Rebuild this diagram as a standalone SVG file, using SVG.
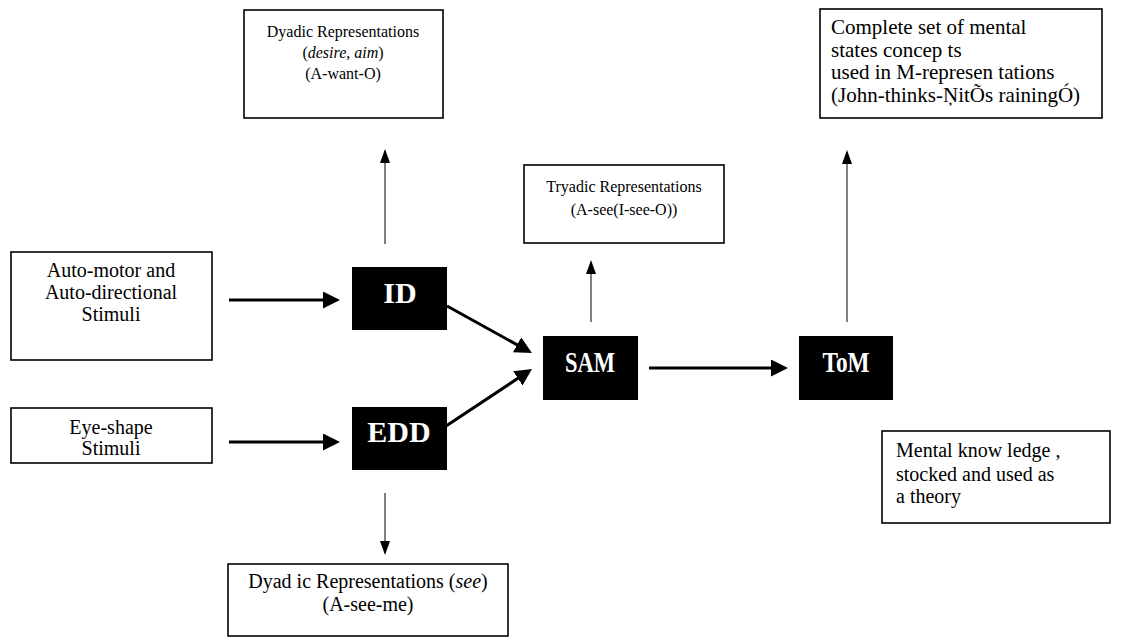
<svg xmlns="http://www.w3.org/2000/svg" width="1127" height="639" viewBox="0 0 1127 639">
<defs>
<style>
.box{fill:#fff;stroke:#000;stroke-width:1.6}
.blk{fill:#000}
.t{font-family:'Liberation Serif','Times New Roman',Times,'DejaVu Serif',serif;font-size:16px;fill:#000}
.L{font-size:20px}
.XL{font-size:21px}
.c{text-anchor:middle}
.bt{font-family:'Liberation Serif','Times New Roman',Times,'DejaVu Serif',serif;font-size:30px;font-weight:bold;fill:#fff;text-anchor:middle}
.thick{stroke:#000;stroke-width:3;fill:none}
.thin{stroke:#000;stroke-width:1;fill:none}
</style>
<marker id="ah" viewBox="0 0 17 17" refX="11" refY="8.5" markerWidth="17" markerHeight="17" markerUnits="userSpaceOnUse" orient="auto">
<path d="M0,0 L17,8.5 L0,17 z" fill="#000"/>
</marker>
<marker id="as" viewBox="0 0 14 10" refX="12" refY="5" markerWidth="14" markerHeight="10" markerUnits="userSpaceOnUse" orient="auto">
<path d="M0,0 L14,5 L0,10 z" fill="#000"/>
</marker>
</defs>
<rect width="1127" height="639" fill="#fff"/>

<g id="dyadic-top">
<rect class="box" x="244" y="10" width="199" height="108"/>
<text class="t c" x="343" y="37">Dyadic Representations</text>
<text class="t c" x="343" y="58">(<tspan font-style="italic">desire</tspan>, <tspan font-style="italic">aim</tspan>)</text>
<text class="t c" x="343" y="79">(A-want-O)</text>
</g>

<g id="complete-set">
<rect class="box" x="820" y="9" width="282" height="109"/>
<text class="t XL" x="831" y="34">Complete set of mental</text>
<text class="t XL" x="831" y="57">states concep ts</text>
<text class="t XL" x="831" y="79">used in M-represen tations</text>
<text class="t XL" x="831" y="102">(John-thinks-ŅitÕs rainingÓ)</text>
</g>

<g id="tryadic">
<rect class="box" x="524" y="165" width="200" height="78"/>
<text class="t c" x="624" y="192">Tryadic Representations</text>
<text class="t c" x="624" y="215">(A-see(I-see-O))</text>
</g>

<g id="auto-stimuli">
<rect class="box" x="11" y="252" width="201" height="108"/>
<text class="t L c" x="111" y="277">Auto-motor and</text>
<text class="t L c" x="111" y="299">Auto-directional</text>
<text class="t L c" x="111" y="321">Stimuli</text>
</g>

<g id="eye-stimuli">
<rect class="box" x="11" y="408" width="201" height="55"/>
<text class="t L c" x="111" y="434">Eye-shape</text>
<text class="t L c" x="111" y="455">Stimuli</text>
</g>

<g id="ID">
<rect class="blk" x="352" y="267" width="95" height="63"/>
<text class="bt" x="400" y="303">ID</text>
</g>

<g id="EDD">
<rect class="blk" x="352" y="407" width="95" height="63"/>
<text class="bt" x="399" y="442">EDD</text>
</g>

<g id="SAM">
<rect class="blk" x="543" y="336" width="95" height="64"/>
<text class="bt" x="590" y="372" textLength="50" lengthAdjust="spacingAndGlyphs">SAM</text>
</g>

<g id="ToM">
<rect class="blk" x="799" y="336" width="94" height="64"/>
<text class="bt" x="846" y="372" textLength="47" lengthAdjust="spacingAndGlyphs">ToM</text>
</g>

<g id="mental-knowledge">
<rect class="box" x="882" y="431" width="228" height="92"/>
<text class="t L" x="896" y="457">Mental know ledge ,</text>
<text class="t L" x="896" y="481">stocked and used as</text>
<text class="t L" x="896" y="503">a theory</text>
</g>

<g id="dyadic-see">
<rect class="box" x="228" y="564" width="280" height="72"/>
<text class="t L c" x="368" y="588">Dyad ic Representations (<tspan font-style="italic">see</tspan>)</text>
<text class="t L c" x="368" y="611">(A-see-me)</text>
</g>

<g id="connectors">
<line class="thick" x1="229" y1="300" x2="334" y2="300" marker-end="url(#ah)"/>
<line class="thick" x1="229" y1="442" x2="334" y2="442" marker-end="url(#ah)"/>
<line class="thick" x1="447" y1="306" x2="526.7" y2="350.1" marker-end="url(#ah)"/>
<line class="thick" x1="437" y1="432" x2="527" y2="372.3" marker-end="url(#ah)"/>
<line class="thick" x1="649" y1="368" x2="782" y2="368" marker-end="url(#ah)"/>
<line class="thin" x1="385" y1="244" x2="385" y2="151" marker-end="url(#as)"/>
<line class="thin" x1="591" y1="322" x2="591" y2="262" marker-end="url(#as)"/>
<line class="thin" x1="847" y1="322" x2="847" y2="152" marker-end="url(#as)"/>
<line class="thin" x1="385" y1="493" x2="385" y2="553" marker-end="url(#as)"/>
</g>
</svg>
